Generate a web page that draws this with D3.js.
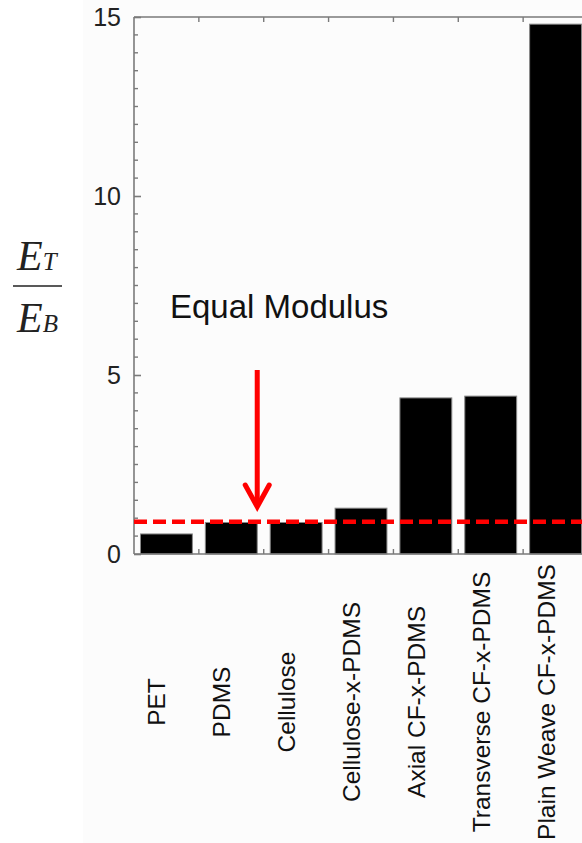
<!DOCTYPE html>
<html>
<head>
<meta charset="utf-8">
<script src="https://cdn.jsdelivr.net/npm/d3@7"></script>
<style>
  body { margin: 0; background: #fff; }
  text { font-family: "Liberation Sans", Arial, sans-serif; }
</style>
</head>
<body>
<svg id="chart" width="582" height="843"></svg>
<script>
var categories = ["PET", "PDMS", "Cellulose", "Cellulose-x-PDMS", "Axial CF-x-PDMS", "Transverse CF-x-PDMS", "Plain Weave CF-x-PDMS"];
var ratios = [0.56, 0.88, 0.88, 1.28, 4.36, 4.41, 14.8];
var majorTicks = [0, 5, 10, 15];
var equalLine = 0.9;

var svg = d3.select("#chart");

// faint grey page behind the plot, like the scanned figure
svg.append("rect")
    .attr("x", 83).attr("y", 0)
    .attr("width", 499).attr("height", 843)
    .attr("fill", "#fcfcfc");

var xScale = d3.scaleBand()
    .domain(categories)
    .range([134, 588])
    .paddingInner(0.2)
    .paddingOuter(0.1);

var yScale = d3.scaleLinear()
    .domain([0, 15])
    .range([554, 17]);

var step = xScale.step();
var left = 134, right = 588;

// bars
svg.selectAll(".bar")
    .data(categories)
    .enter().append("rect")
    .attr("class", "bar")
    .attr("x", function (d) { return xScale(d); })
    .attr("y", function (d, i) { return yScale(ratios[i]); })
    .attr("width", xScale.bandwidth())
    .attr("height", function (d, i) { return yScale(0) - yScale(ratios[i]); })
    .attr("fill", "#000")
    .attr("stroke", "#888")
    .attr("stroke-width", 1);

// frame
var frame = svg.append("g").attr("stroke", "#7a7a7a").attr("stroke-width", 1.6).attr("fill", "none");
frame.append("line").attr("x1", left).attr("x2", left).attr("y1", yScale(15)).attr("y2", yScale(0));
frame.append("line").attr("x1", left).attr("x2", right).attr("y1", yScale(15)).attr("y2", yScale(15));
frame.append("line").attr("x1", left).attr("x2", right).attr("y1", yScale(0)).attr("y2", yScale(0));

// y axis, ticks pointing inward
var yAxis = d3.axisLeft(yScale)
    .tickValues(majorTicks)
    .tickSize(-7)
    .tickPadding(13)
    .tickFormat(d3.format("d"));

var gy = svg.append("g")
    .attr("transform", "translate(" + left + ",0)")
    .call(yAxis);
gy.select(".domain").remove();
gy.selectAll("line").attr("stroke", "#7a7a7a").attr("stroke-width", 1.6);
gy.selectAll("text")
    .style("font-size", "25px")
    .attr("fill", "#222");

var minor = d3.range(0, 15.01, 0.5).filter(function (v) { return v % 5 !== 0; });
svg.selectAll(".minor")
    .data(minor)
    .enter().append("line")
    .attr("class", "minor")
    .attr("x1", left).attr("x2", left + 4)
    .attr("y1", function (d) { return yScale(d); })
    .attr("y2", function (d) { return yScale(d); })
    .attr("stroke", "#7a7a7a").attr("stroke-width", 1.4);

// ticks at the category boundaries, top and bottom
var bounds = d3.range(1, categories.length + 1).map(function (i) { return left + i * step; });
svg.selectAll(".btick")
    .data(bounds)
    .enter().append("line")
    .attr("x1", function (d) { return d; }).attr("x2", function (d) { return d; })
    .attr("y1", yScale(0)).attr("y2", yScale(0) - 5)
    .attr("stroke", "#7a7a7a").attr("stroke-width", 1.4);
svg.selectAll(".ttick")
    .data(bounds)
    .enter().append("line")
    .attr("x1", function (d) { return d; }).attr("x2", function (d) { return d; })
    .attr("y1", yScale(15)).attr("y2", yScale(15) + 5)
    .attr("stroke", "#7a7a7a").attr("stroke-width", 1.4);

// category labels, rotated
svg.selectAll(".cat")
    .data(categories)
    .enter().append("text")
    .attr("class", "cat")
    .attr("transform", function (d) {
        return "translate(" + (xScale(d) + xScale.bandwidth() / 2 - 1) + ",702) rotate(-90)";
    })
    .attr("text-anchor", "middle")
    .style("font-size", "24.5px")
    .attr("fill", "#111")
    .text(function (d) { return d; });

// equal modulus dashed line
svg.append("line")
    .attr("x1", left).attr("x2", 582)
    .attr("y1", yScale(equalLine)).attr("y2", yScale(equalLine))
    .attr("stroke", "#ff0000")
    .attr("stroke-width", 4.5)
    .attr("stroke-dasharray", "13,6");

// arrow and annotation
var ax = xScale("PDMS") + xScale.bandwidth();
svg.append("line")
    .attr("x1", ax).attr("x2", ax)
    .attr("y1", 370).attr("y2", yScale(equalLine) - 16)
    .attr("stroke", "#ff0000").attr("stroke-width", 5);
svg.append("path")
    .attr("d", "M" + (ax - 12) + ",485 L" + ax + "," + (yScale(equalLine) - 15) + " L" + (ax + 12) + ",485")
    .attr("fill", "none")
    .attr("stroke", "#ff0000")
    .attr("stroke-width", 5)
    .attr("stroke-linecap", "round");

svg.append("text")
    .attr("x", 170).attr("y", 318)
    .style("font-size", "33px")
    .attr("fill", "#111")
    .text("Equal Modulus");

// y label: E_T over E_B
var serif = "'Liberation Serif', 'Times New Roman', serif";
var numText = svg.append("text").attr("x", 17).attr("y", 270)
    .style("font-family", serif).style("font-style", "italic").style("font-size", "42px").attr("fill", "#222");
numText.append("tspan").text("E");
numText.append("tspan").style("font-size", "25px").text("T");
var denText = svg.append("text").attr("x", 17).attr("y", 332)
    .style("font-family", serif).style("font-style", "italic").style("font-size", "42px").attr("fill", "#222");
denText.append("tspan").text("E");
denText.append("tspan").style("font-size", "25px").text("B");
svg.append("line")
    .attr("x1", 13).attr("x2", 62)
    .attr("y1", 286).attr("y2", 286)
    .attr("stroke", "#222").attr("stroke-width", 1.6);
</script>
</body>
</html>
